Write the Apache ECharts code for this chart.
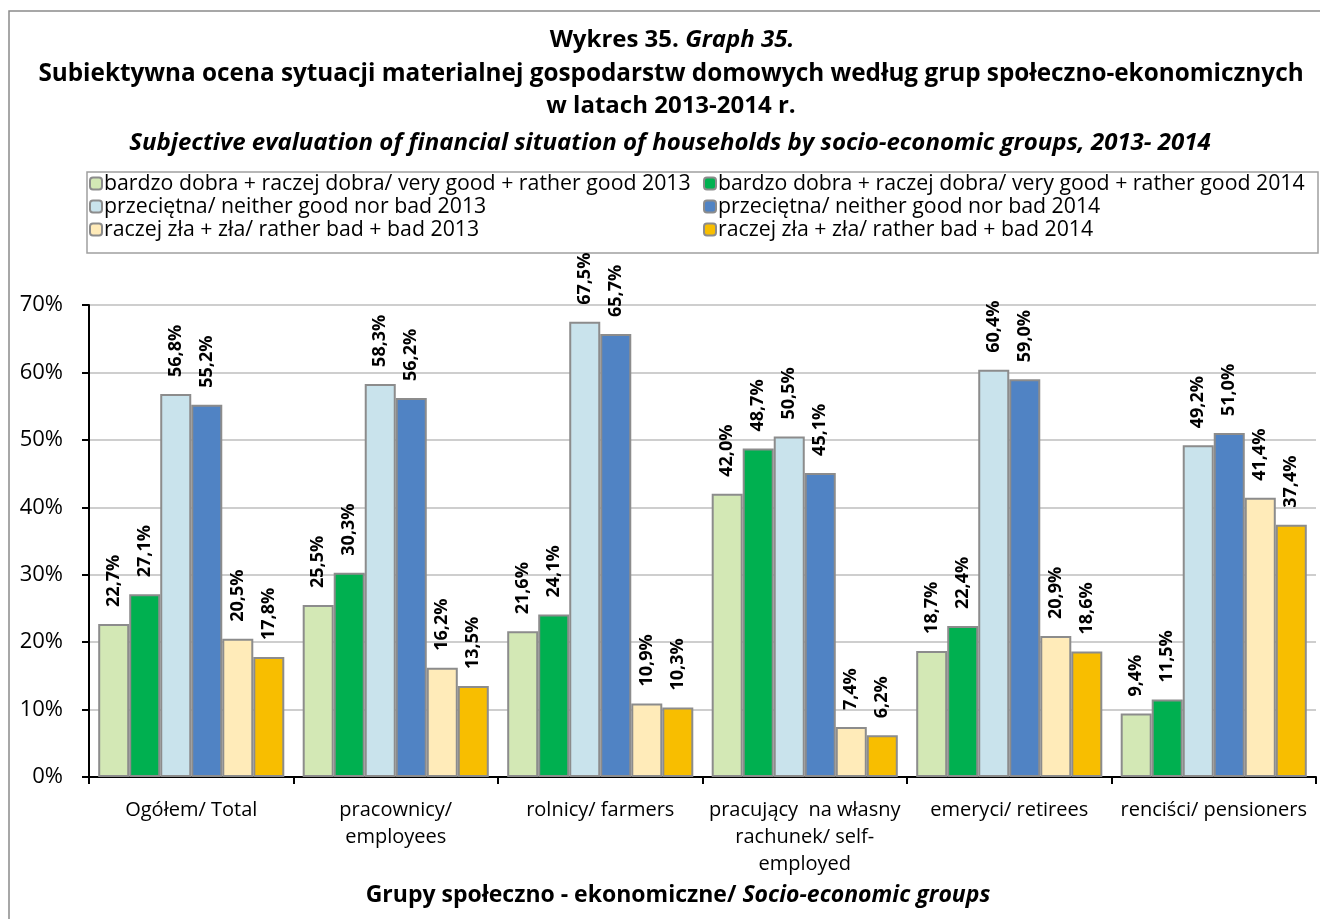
<!DOCTYPE html>
<html>
<head>
<meta charset="utf-8">
<script src="https://cdn.jsdelivr.net/npm/echarts@6/dist/echarts.min.js"></script>
<style>
html,body{margin:0;padding:0;background:#fff;}
#c{width:1320px;height:919px;}
</style>
</head>
<body>
<div id="c"></div>
<script>
const categories = [
  "Ogółem/ Total",
  "pracownicy/\nemployees",
  "rolnicy/ farmers",
  "pracujący  na własny\nrachunek/ self-\nemployed",
  "emeryci/ retirees",
  "renciści/ pensioners"
];
const seriesNames = [
  "bardzo dobra + raczej dobra/ very good + rather good 2013",
  "bardzo dobra + raczej dobra/ very good + rather good 2014",
  "przeciętna/ neither good nor bad 2013",
  "przeciętna/ neither good nor bad 2014",
  "raczej zła + zła/ rather bad + bad 2013",
  "raczej zła + zła/ rather bad + bad 2014"
];
const good2013 = [22.7, 25.5, 21.6, 42.0, 18.7, 9.4];
const good2014 = [27.1, 30.3, 24.1, 48.7, 22.4, 11.5];
const avg2013  = [56.8, 58.3, 67.5, 50.5, 60.4, 49.2];
const avg2014  = [55.2, 56.2, 65.7, 45.1, 59.0, 51.0];
const bad2013  = [20.5, 16.2, 10.9, 7.4, 20.9, 41.4];
const bad2014  = [17.8, 13.5, 10.3, 6.2, 18.6, 37.4];
const yTicks = [0, 10, 20, 30, 40, 50, 60, 70];

const values = [good2013, good2014, avg2013, avg2014, bad2013, bad2014];
const colors = ["#D3E8B5", "#00B050", "#C9E3EC", "#5083C4", "#FFEBB9", "#F8BE00"];
const FONT = "Open Sans";

const chart = echarts.init(document.getElementById('c'), null, {renderer: 'canvas'});

const series = values.map((v, i) => ({
  name: seriesNames[i],
  type: 'bar',
  data: v,
  barGap: '0%',
  barCategoryGap: '9%',
  itemStyle: {color: colors[i], borderColor: '#8C8C8C', borderWidth: 2},
  label: {
    show: true,
    position: 'top',
    rotate: 90,
    align: 'left',
    verticalAlign: 'middle',
    distance: 17,
    fontFamily: FONT,
    fontWeight: 'bold',
    fontSize: 18,
    color: '#000',
    formatter: p => p.value.toFixed(1).replace('.', ',') + '%'
  }
}));

const legendCommon = {
  orient: 'vertical',
  top: 173,
  padding: 0,
  itemWidth: 12,
  itemHeight: 12,
  itemGap: 2,
  textStyle: {fontFamily: FONT, fontSize: 21.3, color: '#000', padding: [0, 0, 0, -3]},
  selectedMode: false
};

chart.setOption({
  animation: false,
  textStyle: {fontFamily: FONT},
  graphic: [
    {type: 'rect', shape: {x: 9, y: 11, width: 1400, height: 1000}, style: {fill: 'none', stroke: '#8A8A8A', lineWidth: 1.5}, z: -10},
    {type: 'rect', shape: {x: 87, y: 172, width: 1231, height: 81}, style: {fill: 'none', stroke: '#A0A0A0', lineWidth: 1.5}, z: -10},
    {type: 'text', x: 672, y: 40, style: {text: 'Wykres 35. {i|Graph 35.}', align: 'center', verticalAlign: 'middle', fontFamily: FONT, fontWeight: 'bold', fontSize: 24, fill: '#000', rich: {i: {fontFamily: FONT, fontWeight: 'bold', fontStyle: 'italic', fontSize: 24}}}},
    {type: 'text', x: 671, y: 74, style: {text: 'Subiektywna ocena sytuacji materialnej gospodarstw domowych według grup społeczno-ekonomicznych', align: 'center', verticalAlign: 'middle', fontFamily: FONT, fontWeight: 'bold', fontSize: 24.3, fill: '#000'}},
    {type: 'text', x: 671, y: 106, style: {text: 'w latach 2013-2014 r.', align: 'center', verticalAlign: 'middle', fontFamily: FONT, fontWeight: 'bold', fontSize: 24, fill: '#000'}},
    {type: 'text', x: 670, y: 143, style: {text: 'Subjective evaluation of financial situation of households by socio-economic groups, 2013- 2014', align: 'center', verticalAlign: 'middle', fontFamily: FONT, fontWeight: 'bold', fontStyle: 'italic', fontSize: 24, fill: '#000'}},
    {type: 'text', x: 678, y: 895, style: {text: 'Grupy społeczno - ekonomiczne/ {i|Socio-economic groups}', align: 'center', verticalAlign: 'middle', fontFamily: FONT, fontWeight: 'bold', fontSize: 23, fill: '#000', rich: {i: {fontFamily: FONT, fontWeight: 'bold', fontStyle: 'italic', fontSize: 23}}}}
  ],
  legend: [
    Object.assign({}, legendCommon, {left: 89, data: [seriesNames[0], seriesNames[2], seriesNames[4]]}),
    Object.assign({}, legendCommon, {left: 703, data: [seriesNames[1], seriesNames[3], seriesNames[5]]})
  ],
  grid: {left: 89, right: 4, top: 305, bottom: 142, containLabel: false},
  xAxis: {
    type: 'category',
    data: categories,
    axisLine: {lineStyle: {color: '#000', width: 2}},
    axisTick: {show: true, length: 7, lineStyle: {color: '#000', width: 2}},
    axisLabel: {fontFamily: FONT, fontSize: 20, color: '#000', margin: 20, lineHeight: 27, interval: 0}
  },
  yAxis: {
    type: 'value',
    min: yTicks[0],
    max: yTicks[yTicks.length - 1],
    interval: 10,
    axisLine: {show: true, lineStyle: {color: '#000', width: 2}},
    axisTick: {show: true, length: 7, lineStyle: {color: '#000', width: 2}},
    axisLabel: {fontFamily: FONT, fontSize: 22, color: '#000', margin: 26, formatter: '{value}%'},
    splitLine: {lineStyle: {color: '#BEBEBE', width: 1.5}}
  },
  series: series
});
</script>
</body>
</html>
